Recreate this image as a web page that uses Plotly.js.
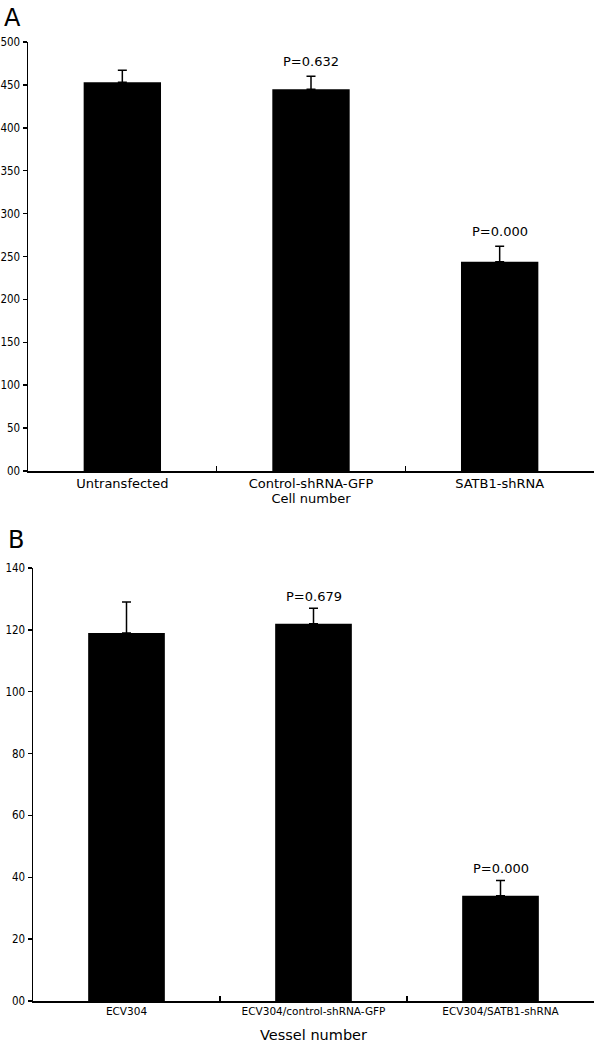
<!DOCTYPE html>
<html><head><meta charset="utf-8">
<script src="https://cdn.plot.ly/plotly-3.0.1.min.js"></script>
<style>html,body{margin:0;padding:0;background:#fff}#chart{width:600px;height:1052px}</style>
</head><body><div id="chart"></div>
<script>
// Panel A data
const catsA = ['Untransfected', 'Control-shRNA-GFP', 'SATB1-shRNA'];
const valsA = [453, 445, 244];
const errA = [14, 15, 18];
const pA = ['', 'P=0.632', 'P=0.000'];
const tickValsA = [0, 50, 100, 150, 200, 250, 300, 350, 400, 450, 500];
const tickTextA = ['00', '50', '100', '150', '200', '250', '300', '350', '400', '450', '500'];

// Panel B data
const catsB = ['ECV304', 'ECV304/control-shRNA-GFP', 'ECV304/SATB1-shRNA'];
const valsB = [119, 122, 34];
const errB = [10, 5, 5];
const pB = ['', 'P=0.679', 'P=0.000'];
const tickValsB = [0, 20, 40, 60, 80, 100, 120, 140];
const tickTextB = ['00', '20', '40', '60', '80', '100', '120', '140'];

const FONT = 'DejaVu Sans, Verdana, sans-serif';
const FONTC = 'DejaVu Sans Condensed, DejaVu Sans, sans-serif';

function barTrace(x, y, e, xa, ya) {
  return {
    type: 'bar', x: x, y: y, xaxis: xa, yaxis: ya, width: 0.41,
    marker: {color: '#000', line: {width: 0}},
    error_y: {type: 'data', symmetric: false, array: e, arrayminus: e.map(() => 0),
              color: '#000', thickness: 1.5, width: 4.5},
    hoverinfo: 'none', showlegend: false
  };
}

const annotations = [];
catsA.forEach((c, i) => {
  if (pA[i]) annotations.push({x: c, y: valsA[i] + errA[i], xref: 'x', yref: 'y', text: pA[i],
    showarrow: false, yanchor: 'bottom', yshift: 5, font: {family: FONT, size: 13, color: '#000'}});
});
catsB.forEach((c, i) => {
  if (pB[i]) annotations.push({x: c, y: valsB[i] + errB[i], xref: 'x2', yref: 'y2', text: pB[i],
    showarrow: false, yanchor: 'bottom', yshift: 2, font: {family: FONT, size: 13, color: '#000'}});
});
annotations.push({x: 12/600, y: 1 - 18/1052, xref: 'paper', yref: 'paper', text: 'A', showarrow: false,
  xanchor: 'center', yanchor: 'middle', font: {family: FONT, size: 24, color: '#000'}});
annotations.push({x: 16/600, y: 1 - 540/1052, xref: 'paper', yref: 'paper', text: 'B', showarrow: false,
  xanchor: 'center', yanchor: 'middle', font: {family: FONT, size: 24, color: '#000'}});

const xCommon = {type: 'category', showline: true, linecolor: '#000', linewidth: 1.5,
  ticks: 'inside', tickson: 'boundaries', ticklen: 5, tickcolor: '#000', tickwidth: 1.5,
  showgrid: false, zeroline: false, fixedrange: true};
const yCommon = {showline: true, linecolor: '#000', linewidth: 1.5, ticks: 'outside', ticklen: 4,
  tickcolor: '#000', tickwidth: 1.5, showgrid: false, zeroline: false,
  tickfont: {family: FONTC, size: 11.5, color: '#000'}, fixedrange: true};

const layout = {
  width: 600, height: 1052, margin: {l: 0, r: 0, t: 0, b: 0},
  paper_bgcolor: '#fff', plot_bgcolor: '#fff', showlegend: false,
  font: {family: FONT, color: '#000'},
  xaxis: Object.assign({}, xCommon, {domain: [28/600, 594/600], anchor: 'y',
    tickfont: {family: FONT, size: 13, color: '#000'},
    title: {text: 'Cell number', font: {family: FONT, size: 13, color: '#000'}, standoff: 4}}),
  yaxis: Object.assign({}, yCommon, {domain: [1 - 471/1052, 1 - 42/1052], anchor: 'x',
    range: [0, 500], tickvals: tickValsA, ticktext: tickTextA}),
  xaxis2: Object.assign({}, xCommon, {domain: [33/600, 594/600], anchor: 'y2',
    tickfont: {family: FONT, size: 10.5, color: '#000'},
    title: {text: 'Vessel number', font: {family: FONT, size: 14.5, color: '#000'}, standoff: 14}}),
  yaxis2: Object.assign({}, yCommon, {domain: [1 - 1001/1052, 1 - 568/1052], anchor: 'x2',
    range: [0, 140], tickvals: tickValsB, ticktext: tickTextB}),
  annotations: annotations
};

Plotly.newPlot('chart', [barTrace(catsA, valsA, errA, 'x', 'y'), barTrace(catsB, valsB, errB, 'x2', 'y2')],
  layout, {displayModeBar: false, staticPlot: true});
</script></body></html>
